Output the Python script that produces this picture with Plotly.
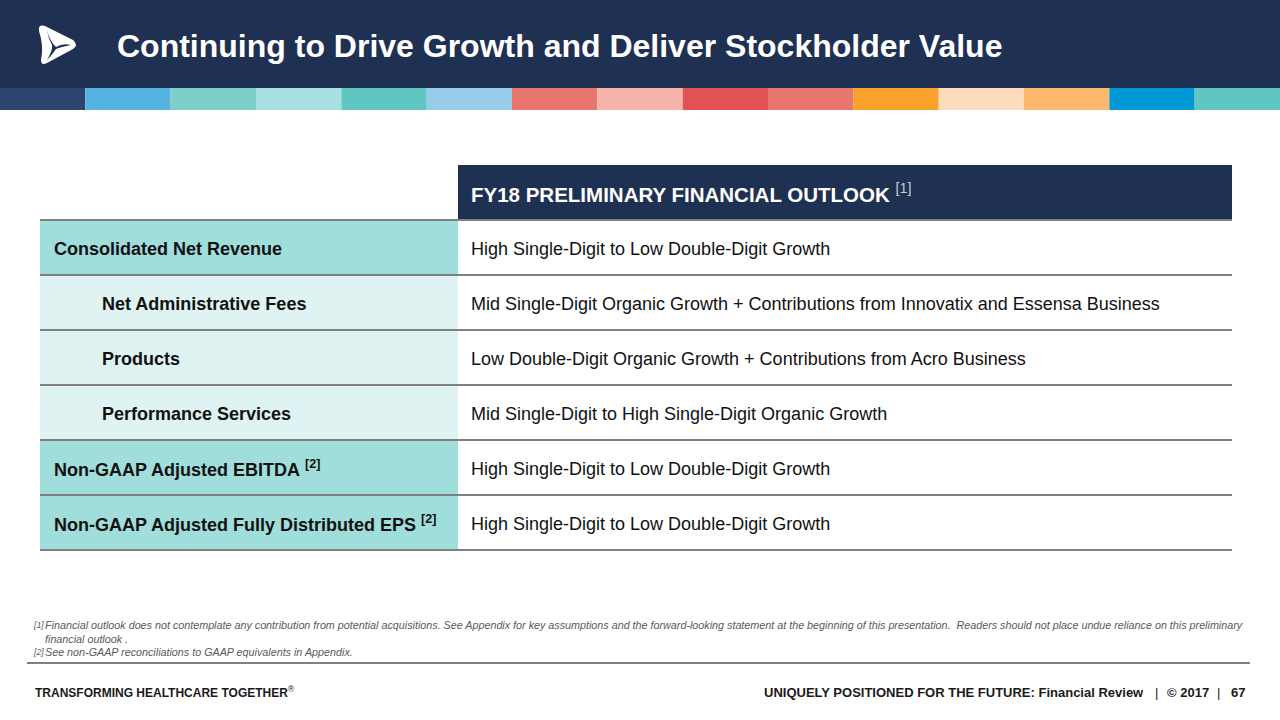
import plotly.graph_objects as go

# ---------------- data ----------------
TITLE = "Continuing to Drive Growth and Deliver Stockholder Value"
STRIP_COLORS = ["#2b4570", "#54b3e0", "#7ecfca", "#a9dfe0", "#5fc6c1", "#97cdea",
                "#e8766f", "#f6b3aa", "#e05253", "#e8766f", "#f9a12a", "#fddcbd",
                "#fdb86e", "#0098d6", "#5fc6c1"]
HEADER = "FY18 PRELIMINARY FINANCIAL OUTLOOK"
HEADER_NOTE = "[1]"
ROW_LABELS = ["Consolidated Net Revenue", "Net Administrative Fees", "Products",
              "Performance Services", "Non-GAAP Adjusted EBITDA",
              "Non-GAAP Adjusted Fully Distributed EPS"]
ROW_NOTES = ["", "", "", "", "[2]", "[2]"]
ROW_SUB = [False, True, True, True, False, False]
OUTLOOK = ["High Single-Digit to Low Double-Digit Growth",
           "Mid Single-Digit Organic Growth + Contributions from Innovatix and Essensa Business",
           "Low Double-Digit Organic Growth + Contributions from Acro Business",
           "Mid Single-Digit to High Single-Digit Organic Growth",
           "High Single-Digit to Low Double-Digit Growth",
           "High Single-Digit to Low Double-Digit Growth"]
FOOTNOTE_MARKS = ["[1]", "", "[2]"]
FOOTNOTE_TEXTS = [
    "Financial outlook does not contemplate any contribution from potential acquisitions. "
    "See Appendix for key assumptions and the forward-looking statement at the beginning of "
    "this presentation.  Readers should not place undue reliance on this preliminary",
    "financial outlook .",
    "See non-GAAP reconciliations to GAAP equivalents in Appendix.",
]
FOOTER_LEFT = "TRANSFORMING HEALTHCARE TOGETHER"
FOOTER_RIGHT_PARTS = ["UNIQUELY POSITIONED FOR THE FUTURE: Financial Review", "|", "© 2017", "|", "67"]

# ---------------- style ----------------
W, H = 1280, 720
NAVY = "#1f3152"
TEAL = "#a0dedb"
TEAL_LIGHT = "#dff3f2"
GRID = "#808080"
FONT = "Liberation Sans, Arial, sans-serif"

TX0, TXM, TX1 = 40, 458, 1232
HDR_Y0, HDR_Y1 = 165, 220
ROW_H = 55

shapes = []
ann = []

# top band
shapes.append(dict(type="rect", x0=0, x1=W, y0=0, y1=88, fillcolor=NAVY, line_width=0, layer="below"))
seg = W / len(STRIP_COLORS)
for i, c in enumerate(STRIP_COLORS):
    shapes.append(dict(type="rect", x0=i * seg, x1=(i + 1) * seg, y0=88, y1=110,
                       fillcolor=c, line_width=0, layer="below"))

# logo
shapes.append(dict(type="path",
                   path="M 39,31 Q 38,24 45,26 L 73,40 Q 79,45 73,49 L 47,63 Q 41,66 41,60 Q 44,46 39,31 Z",
                   fillcolor="white", line_width=0))
shapes.append(dict(type="path",
                   path="M 47,30 Q 50,42 56,47 Q 63,43 71,45 Q 61,47 56,49 Q 52,55 47,60 Q 53,50 52,45 Q 48,38 47,30 Z",
                   fillcolor=NAVY, line_width=0))

ann.append(dict(x=115, y=46, xanchor="left", yanchor="middle", text="<b>" + TITLE + "</b>",
                font=dict(family=FONT, size=32, color="white")))

# table header
shapes.append(dict(type="rect", x0=TXM, x1=TX1, y0=HDR_Y0, y1=HDR_Y1, fillcolor=NAVY, line_width=0))
ann.append(dict(x=469, y=(HDR_Y0 + HDR_Y1) / 2, xanchor="left", yanchor="middle",
                text="<b>" + HEADER + "</b> <sup><span style='color:#c8cdd8'>" + HEADER_NOTE + "</span></sup>",
                font=dict(family=FONT, size=20.5, color="white")))

# rows
for i, (lab, note, sub, out) in enumerate(zip(ROW_LABELS, ROW_NOTES, ROW_SUB, OUTLOOK)):
    y0 = HDR_Y1 + i * ROW_H
    y1 = y0 + ROW_H
    yc = (y0 + y1) / 2 + 1
    shapes.append(dict(type="rect", x0=TX0, x1=TXM, y0=y0, y1=y1,
                       fillcolor=TEAL_LIGHT if sub else TEAL, line_width=0, layer="below"))
    txt = "<b>" + lab + "</b>"
    if note:
        txt += " <sup><b>" + note + "</b></sup>"
    ann.append(dict(x=100 if sub else 52, y=yc, xanchor="left", yanchor="middle", text=txt,
                    font=dict(family=FONT, size=18, color="#111111")))
    ann.append(dict(x=469, y=yc, xanchor="left", yanchor="middle", text=out,
                    font=dict(family=FONT, size=18, color="#111111")))

# horizontal rules
for i in range(len(ROW_LABELS) + 1):
    y = HDR_Y1 + i * ROW_H
    shapes.append(dict(type="line", x0=TX0, x1=TX1, y0=y, y1=y, line=dict(color=GRID, width=2)))

# footnotes
fy = [625, 638.5, 651.5]
for mark, txt, y in zip(FOOTNOTE_MARKS, FOOTNOTE_TEXTS, fy):
    if mark:
        ann.append(dict(x=31, y=y, xanchor="left", yanchor="middle", text="<sup><i>" + mark + "</i></sup>",
                        font=dict(family=FONT, size=12.5, color="#595959")))
    ann.append(dict(x=43, y=y, xanchor="left", yanchor="middle", text="<i>" + txt + "</i>",
                    font=dict(family=FONT, size=10.75, color="#595959")))

shapes.append(dict(type="line", x0=27, x1=1250, y0=663, y1=663, line=dict(color=GRID, width=2)))

ann.append(dict(x=33, y=692, xanchor="left", yanchor="middle",
                text="<b>" + FOOTER_LEFT + "</b><sup>®</sup>",
                font=dict(family=FONT, size=12, color="#1a1a1a")))
# right footer pieces: (anchor x, xanchor)
fr_pos = [(1146, "right"), (1156, "center"), (1165, "left"), (1218, "center"), (1247, "right")]
for part, (x, xa) in zip(FOOTER_RIGHT_PARTS, fr_pos):
    t = part if part == "|" else "<b>" + part + "</b>"
    ann.append(dict(x=x, y=692, xanchor=xa, yanchor="middle", text=t,
                    font=dict(family=FONT, size=13, color="#1a1a1a")))

for a in ann:
    a.update(xref="x", yref="y", showarrow=False, align="left")

fig = go.Figure()
fig.update_layout(
    width=W, height=H, margin=dict(l=0, r=0, t=0, b=0),
    paper_bgcolor="white", plot_bgcolor="white",
    xaxis=dict(range=[0, W], visible=False, fixedrange=True),
    yaxis=dict(range=[H, 0], visible=False, fixedrange=True),
    shapes=shapes, annotations=ann, showlegend=False,
)
fig.write_html("out.html", config={"displayModeBar": False},
               post_script="document.body.style.margin='0';document.body.style.overflow='hidden';")
